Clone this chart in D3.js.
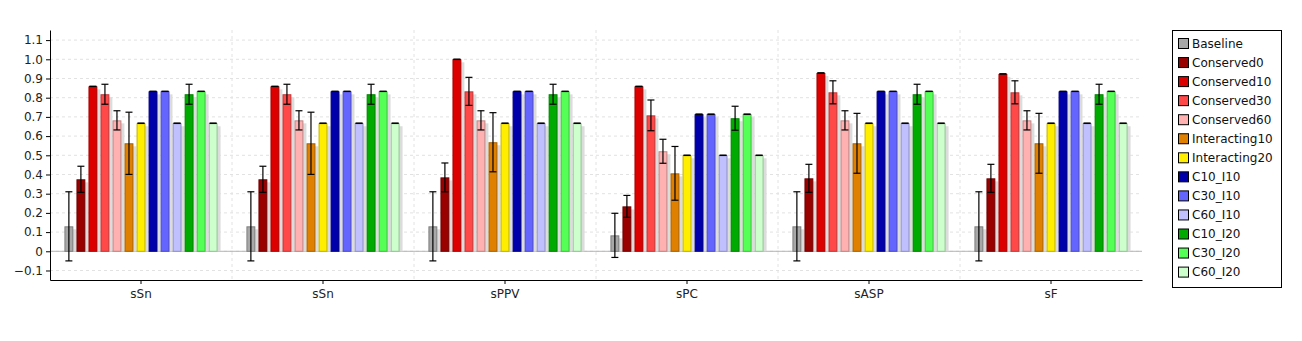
<!DOCTYPE html>
<html>
<head>
<meta charset="utf-8">
<script src="https://cdn.jsdelivr.net/npm/d3@7"></script>
<style>
  body { margin: 0; background: #fff; }
  svg { display: block; font-family: "DejaVu Sans", sans-serif; }
</style>
</head>
<body>
<svg id="chart" width="1302" height="341"></svg>
<script>
const categories = ["sSn", "sSn", "sPPV", "sPC", "sASP", "sF"];
const seriesNames = ["Baseline", "Conserved0", "Conserved10", "Conserved30", "Conserved60",
  "Interacting10", "Interacting20", "C10_I10", "C30_I10", "C60_I10", "C10_I20", "C30_I20", "C60_I20"];
const seriesColors = ["#a8a8a8", "#990000", "#dd0000", "#ff4848", "#ffb0b0",
  "#e08000", "#ffee00", "#0000aa", "#6464ff", "#c0c0ff", "#00aa00", "#55ff55", "#ccffcc"];
const yTicks = [-0.1, 0, 0.1, 0.2, 0.3, 0.4, 0.5, 0.6, 0.7, 0.8, 0.9, 1.0, 1.1];

// values per series (one per category)
const baseline      = [0.130, 0.130, 0.130, 0.083, 0.130, 0.130];
const conserved0    = [0.375, 0.375, 0.385, 0.234, 0.380, 0.380];
const conserved10   = [0.859, 0.859, 1.000, 0.859, 0.929, 0.924];
const conserved30   = [0.818, 0.818, 0.833, 0.708, 0.828, 0.828];
const conserved60   = [0.682, 0.682, 0.682, 0.521, 0.682, 0.682];
const interacting10 = [0.5625, 0.5625, 0.568, 0.406, 0.5625, 0.5625];
const interacting20 = [0.667, 0.667, 0.667, 0.500, 0.667, 0.667];
const c10i10        = [0.833, 0.833, 0.833, 0.714, 0.833, 0.833];
const c30i10        = [0.833, 0.833, 0.833, 0.714, 0.833, 0.833];
const c60i10        = [0.667, 0.667, 0.667, 0.500, 0.667, 0.667];
const c10i20        = [0.818, 0.818, 0.818, 0.693, 0.818, 0.818];
const c30i20        = [0.833, 0.833, 0.833, 0.714, 0.833, 0.833];
const c60i20        = [0.667, 0.667, 0.667, 0.500, 0.667, 0.667];

// error half-widths per series
const baselineErr      = [0.180, 0.180, 0.180, 0.115, 0.180, 0.180];
const conserved0Err    = [0.068, 0.068, 0.075, 0.057, 0.073, 0.073];
const conserved10Err   = [0, 0, 0, 0, 0, 0];
const conserved30Err   = [0.052, 0.052, 0.073, 0.080, 0.060, 0.060];
const conserved60Err   = [0.050, 0.050, 0.050, 0.0625, 0.050, 0.050];
const interacting10Err = [0.162, 0.162, 0.154, 0.140, 0.156, 0.156];
const interacting20Err = [0, 0, 0, 0, 0, 0];
const c10i10Err        = [0, 0, 0, 0, 0, 0];
const c30i10Err        = [0, 0, 0, 0, 0, 0];
const c60i10Err        = [0, 0, 0, 0, 0, 0];
const c10i20Err        = [0.052, 0.052, 0.052, 0.0625, 0.052, 0.052];
const c30i20Err        = [0, 0, 0, 0, 0, 0];
const c60i20Err        = [0, 0, 0, 0, 0, 0];

const seriesValues = [baseline, conserved0, conserved10, conserved30, conserved60, interacting10,
  interacting20, c10i10, c30i10, c60i10, c10i20, c30i20, c60i20];
const seriesErrors = [baselineErr, conserved0Err, conserved10Err, conserved30Err, conserved60Err,
  interacting10Err, interacting20Err, c10i10Err, c30i10Err, c60i10Err, c10i20Err, c30i20Err, c60i20Err];

(function () {
const svg = d3.select("#chart");
const pLeft = 50, pRight = 1142, pTop = 30, pBottom = 280;

const catIdx = categories.map((c, i) => i);
const x0 = d3.scaleBand().domain(catIdx).range([pLeft, pRight]).padding(0);
const x1 = d3.scaleBand().domain(seriesNames).range([0, x0.bandwidth()])
  .paddingInner(0.26).paddingOuter(1.2);
const y = d3.scaleLinear().domain([-0.1495, 1.1526]).range([pBottom, pTop]);

// horizontal grid
svg.append("g").selectAll("line").data(yTicks).join("line")
  .attr("x1", pLeft).attr("x2", pRight)
  .attr("y1", d => y(d)).attr("y2", d => y(d))
  .attr("stroke", "#e2e2e2").attr("stroke-dasharray", "3,3");
// vertical category separators
svg.append("g").selectAll("line").data(catIdx.slice(1)).join("line")
  .attr("x1", d => x0(d)).attr("x2", d => x0(d))
  .attr("y1", pTop).attr("y2", pBottom)
  .attr("stroke", "#e2e2e2").attr("stroke-dasharray", "3,3");

// zero line
svg.append("line").attr("x1", pLeft).attr("x2", pRight)
  .attr("y1", y(0)).attr("y2", y(0)).attr("stroke", "#b4b4b4").attr("stroke-width", 1);

// bars
const flat = [];
catIdx.forEach(ci => {
  seriesNames.forEach((s, si) => {
    flat.push({ci, si, s, v: seriesValues[si][ci], e: seriesErrors[si][ci], color: seriesColors[si]});
  });
});

const bw = x1.bandwidth();
const gBars = svg.append("g");
gBars.selectAll("rect.shadow").data(flat).join("rect").attr("class", "shadow")
  .attr("x", d => x0(d.ci) + x1(d.s) + 3)
  .attr("y", d => Math.min(y(d.v), y(0)) + 3)
  .attr("width", bw)
  .attr("height", d => Math.max(0, Math.abs(y(0) - y(d.v)) - 3))
  .attr("fill", "#dcdcdc");
gBars.selectAll("rect.bar").data(flat).join("rect").attr("class", "bar")
  .attr("x", d => x0(d.ci) + x1(d.s) + 0.5)
  .attr("y", d => Math.min(y(d.v), y(0)) + 0.5)
  .attr("width", bw - 1)
  .attr("height", d => Math.abs(y(0) - y(d.v)) - 0.5)
  .attr("fill", d => d.color)
  .attr("stroke", d => d3.color(d.color).darker(0.8))
  .attr("stroke-width", 1);

// error bars
const gErr = svg.append("g").attr("stroke", "#000").attr("stroke-width", 1.2);
const cx = d => x0(d.ci) + x1(d.s) + bw / 2;
gErr.selectAll("line.v").data(flat.filter(d => d.e > 0)).join("line")
  .attr("x1", cx).attr("x2", cx)
  .attr("y1", d => y(d.v + d.e)).attr("y2", d => y(d.v - d.e));
gErr.selectAll("line.t").data(flat).join("line")
  .attr("x1", d => cx(d) - 3.5).attr("x2", d => cx(d) + 3.5)
  .attr("y1", d => y(d.v + d.e)).attr("y2", d => y(d.v + d.e));
gErr.selectAll("line.b").data(flat).join("line")
  .attr("x1", d => cx(d) - 3.5).attr("x2", d => cx(d) + 3.5)
  .attr("y1", d => y(d.v - d.e)).attr("y2", d => y(d.v - d.e));

// y axis
const yAxis = d3.axisLeft(y).tickValues(yTicks).tickSize(4).tickSizeOuter(0)
  .tickFormat(d => Math.abs(d) < 1e-9 ? "0" : d3.format(".1f")(d));
const gy = svg.append("g").attr("transform", `translate(${pLeft},0)`).call(yAxis);
gy.selectAll("text").attr("font-size", 12).attr("fill", "#222")
  .attr("font-family", "DejaVu Sans, sans-serif");
gy.select(".domain").attr("stroke", "#000");

// x axis
const xAxis = d3.axisBottom(x0).tickSize(4).tickSizeOuter(0).tickFormat(i => categories[i]);
const gx = svg.append("g").attr("transform", `translate(0,${pBottom})`).call(xAxis);
gx.selectAll("text").attr("font-size", 12).attr("fill", "#222").attr("dy", "0.9em")
  .attr("font-family", "DejaVu Sans, sans-serif");
gx.select(".domain").attr("stroke", "#000");

// legend
const lg = svg.append("g");
lg.append("rect").attr("x", 1172.5).attr("y", 30.5).attr("width", 109).attr("height", 257)
  .attr("fill", "#fff").attr("stroke", "#000");
const items = lg.selectAll("g.item").data(seriesNames).join("g").attr("class", "item")
  .attr("transform", (d, i) => `translate(1178,${38 + i * 19.05})`);
items.append("rect").attr("x", 0.5).attr("y", 0.5).attr("width", 10).attr("height", 10)
  .attr("fill", (d, i) => seriesColors[i]).attr("stroke", "#000");
items.append("text").attr("x", 14).attr("y", 5.5).attr("dy", "0.35em")
  .attr("font-size", 12).attr("fill", "#111").text(d => d);
})();
</script>
</body>
</html>
